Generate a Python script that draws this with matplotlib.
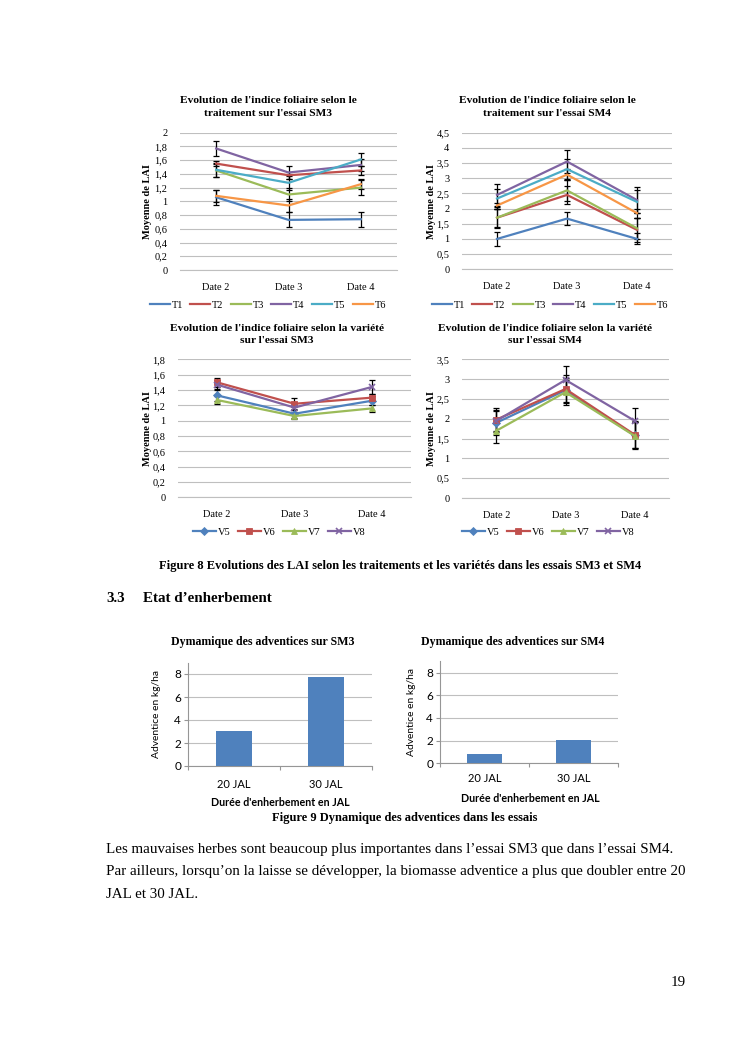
"""Rebuild page 19: LAI line charts (figure 8) and weed bar charts (figure 9)."""

import matplotlib

matplotlib.use("Agg")
import matplotlib.pyplot as plt

W, H = 745, 1053
SERIF = "Liberation Serif"
SANS = "Lato"

DATES = ["Date 2", "Date 3", "Date 4"]
TREATMENTS = ["T1", "T2", "T3", "T4", "T5", "T6"]
VARIETIES = ["V5", "V6", "V7", "V8"]
COLORS = ["#4F81BD", "#C0504D", "#9BBB59", "#8064A2", "#4BACC6", "#F79646"]
VAR_MARKERS = ["D", "s", "^", "x"]

# LAI by treatment, SM3
SM3_TRT = [
    [1.06, 0.73, 0.74],
    [1.55, 1.38, 1.45],
    [1.45, 1.10, 1.20],
    [1.77, 1.42, 1.53],
    [1.46, 1.27, 1.61],
    [1.08, 0.94, 1.25],
]
SM3_TRT_ERR = [
    [0.11, 0.11, 0.11],
    [0.04, 0.05, 0.06],
    [0.09, 0.09, 0.11],
    [0.11, 0.10, 0.09],
    [0.10, 0.10, 0.09],
    [0.09, 0.09, 0.07],
]
# LAI by treatment, SM4
SM4_TRT = [
    [1.00, 1.67, 1.00],
    [1.70, 2.45, 1.30],
    [1.70, 2.60, 1.35],
    [2.45, 3.55, 2.28],
    [2.33, 3.30, 2.22],
    [2.10, 3.12, 1.85],
]
SM4_TRT_ERR = [
    [0.22, 0.22, 0.18],
    [0.30, 0.30, 0.40],
    [0.35, 0.35, 0.35],
    [0.35, 0.38, 0.42],
    [0.33, 0.33, 0.38],
    [0.10, 0.18, 0.15],
]
# LAI by variety
SM3_VAR = [
    [1.33, 1.09, 1.26],
    [1.50, 1.22, 1.30],
    [1.27, 1.06, 1.16],
    [1.47, 1.17, 1.44],
]
SM3_VAR_ERR = [
    [0.07, 0.05, 0.06],
    [0.06, 0.07, 0.05],
    [0.05, 0.04, 0.05],
    [0.06, 0.06, 0.09],
]
SM4_VAR = [
    [1.90, 2.72, 1.58],
    [1.98, 2.75, 1.60],
    [1.70, 2.67, 1.57],
    [1.95, 2.98, 1.95],
]
SM4_VAR_ERR = [
    [0.30, 0.30, 0.33],
    [0.30, 0.35, 0.35],
    [0.32, 0.32, 0.34],
    [0.28, 0.35, 0.33],
]

JAL = ["20 JAL", "30 JAL"]
WEEDS_SM3 = [3.02, 7.71]
WEEDS_SM4 = [0.82, 2.09]


def box(left, top, right, bottom):
    return [left / W, 1 - bottom / H, (right - left) / W, (bottom - top) / H]


def fx(x):
    return x / W


def fy(y):
    return 1 - y / H


def decimal(v, _pos=None):
    return f"{v:g}".replace(".", ",")


def line_chart(fig, rect, title, title_xy, series, errors, names, ylim, step,
               legend_xy, ylabel_x, markers=None):
    ax = fig.add_axes(box(*rect))
    x = range(len(DATES))
    for vals, err in zip(series, errors):
        ax.errorbar(x, vals, yerr=err, fmt="none", ecolor="black", elinewidth=0.9,
                    capsize=2.2, capthick=0.9, zorder=3)
    for i, vals in enumerate(series):
        ax.plot(x, vals, color=COLORS[i], lw=1.6, label=names[i],
                marker=markers[i] if markers else None, ms=4.5 if markers else 0,
                mew=1.2 if markers and markers[i] == "x" else 0.6, zorder=4)
    ax.set_xlim(-0.5, len(DATES) - 0.5)
    ax.set_ylim(*ylim)
    ticks = [round(step * k, 2) for k in range(int(round(ylim[1] / step)) + 1)]
    ax.set_yticks(ticks)
    ax.yaxis.set_major_formatter(matplotlib.ticker.FuncFormatter(decimal))
    ax.set_xticks(list(x), DATES)
    ax.grid(axis="y", color="#BFBFBF", lw=0.8)
    ax.set_axisbelow(True)
    for side in ("top", "right", "left"):
        ax.spines[side].set_visible(False)
    ax.spines["bottom"].set_color("#BFBFBF")
    ax.tick_params(length=0, labelsize=7.5, pad=9)
    for lab in ax.get_xticklabels() + ax.get_yticklabels():
        lab.set_family(SERIF)
    fig.text(fx(title_xy[0]), fy(title_xy[1]), title, ha="center", va="center",
             family=SERIF, weight="bold", fontsize=8.2, linespacing=1.5)
    fig.text(fx(ylabel_x), fy((rect[1] + rect[3]) / 2), "Moyenne de LAI", rotation=90,
             ha="center", va="center", family=SERIF, weight="bold", fontsize=7.5)
    ax.legend(loc="center", bbox_to_anchor=(fx(legend_xy[0]), fy(legend_xy[1])),
              bbox_transform=fig.transFigure, ncol=len(names), frameon=False,
              prop={"family": SERIF, "size": 7.5}, handlelength=2.2 if markers else 1.9,
              columnspacing=0.7, handletextpad=0.2, borderpad=0)
    return ax


def bar_chart(fig, rect, title, title_xy, values, ylabel_x, xtick_y, xlabel_xy):
    ax = fig.add_axes(box(*rect))
    x = range(len(JAL))
    ax.bar(x, values, width=0.4, color="#4F81BD", zorder=3)
    ax.set_xlim(-0.5, len(JAL) - 0.5)
    ax.set_ylim(0, 9)
    ax.set_yticks([0, 2, 4, 6, 8])
    ax.set_xticks([-0.5, 0.5, 1.5])
    ax.set_xticklabels([])
    ax.grid(axis="y", color="#BFBFBF", lw=0.8)
    ax.set_axisbelow(True)
    for side in ("top", "right"):
        ax.spines[side].set_visible(False)
    for side in ("left", "bottom"):
        ax.spines[side].set_color("#969696")
    ax.tick_params(axis="x", length=3, color="#969696")
    ax.tick_params(axis="y", length=3, color="#969696", labelsize=8.5, pad=2)
    for lab in ax.get_yticklabels():
        lab.set_family(SANS)
    # category labels sit between the tick marks
    for i, name in enumerate(JAL):
        fig.text(fx(rect[0] + (rect[2] - rect[0]) * (i + 0.5) / len(JAL)), fy(xtick_y), name,
                 ha="center", va="center", family=SANS, fontsize=8)
    fig.text(fx(title_xy[0]), fy(title_xy[1]), title, ha="center", va="center",
             family=SERIF, weight="bold", fontsize=8.6)
    fig.text(fx(ylabel_x), fy((rect[1] + rect[3]) / 2), "Adventice en kg/ha", rotation=90,
             ha="center", va="center", family=SANS, fontsize=7.4)
    fig.text(fx(xlabel_xy[0]), fy(xlabel_xy[1]), "Durée d'enherbement en JAL",
             ha="center", va="center", family=SANS, weight="bold", fontsize=7.7)
    return ax


def main():
    fig = plt.figure(figsize=(W / 100, H / 100), dpi=100)

    line_chart(fig, (180, 132.7, 397, 270),
               "Evolution de l'indice foliaire selon le\ntraitement sur l'essai SM3", (268, 107),
               SM3_TRT, SM3_TRT_ERR, TREATMENTS, (0, 2), 0.2, (268, 305), 148)
    line_chart(fig, (462, 132.7, 672, 269.3),
               "Evolution de l'indice foliaire selon le\ntraitement sur l'essai SM4", (547, 107),
               SM4_TRT, SM4_TRT_ERR, TREATMENTS, (0, 4.5), 0.5, (550, 305), 432)
    line_chart(fig, (178, 359.3, 411, 497.3),
               "Evolution de l'indice foliaire selon la variété\nsur l'essai SM3", (277, 334.5),
               SM3_VAR, SM3_VAR_ERR, VARIETIES, (0, 1.8), 0.2, (279, 532), 148,
               markers=VAR_MARKERS)
    line_chart(fig, (462, 359.3, 669, 498),
               "Evolution de l'indice foliaire selon la variété\nsur l'essai SM4", (545, 334.5),
               SM4_VAR, SM4_VAR_ERR, VARIETIES, (0, 3.5), 0.5, (548, 532), 432,
               markers=VAR_MARKERS)

    bar_chart(fig, (188, 662.5, 372, 766), "Dymamique des adventices sur SM3", (263, 641.7),
              WEEDS_SM3, 156.7, 785, (280, 803))
    bar_chart(fig, (440, 661.3, 618, 763.3), "Dymamique des adventices sur SM4", (513, 641.7),
              WEEDS_SM4, 411.7, 778, (530, 798))

    fig.text(fx(400), fy(566), "Figure 8 Evolutions des LAI selon les traitements et les variétés "
             "dans les essais SM3 et SM4", ha="center", va="center", family=SERIF,
             weight="bold", fontsize=9)
    fig.text(fx(106), fy(598), "3.3", ha="left", va="center", family=SERIF, weight="bold",
             fontsize=10.8)
    fig.text(fx(143), fy(598), "Etat d\u2019enherbement", ha="left", va="center", family=SERIF,
             weight="bold", fontsize=10.8)
    fig.text(fx(405), fy(818), "Figure 9 Dynamique des adventices dans les essais", ha="center",
             va="center", family=SERIF, weight="bold", fontsize=9)

    body = [
        "Les mauvaises herbes sont beaucoup plus importantes dans l\u2019essai SM3 que dans l\u2019essai SM4.",
        "Par ailleurs, lorsqu\u2019on la laisse se développer, la biomasse adventice a plus que doubler entre 20",
        "JAL et 30 JAL.",
    ]
    for i, line in enumerate(body):
        fig.text(fx(106), fy(850 + 22 * i), line, ha="left", va="center", family=SERIF,
                 fontsize=10.8)
    fig.text(fx(686), fy(982), "19", ha="right", va="center", family=SERIF, fontsize=10.8)

    fig.savefig("out.png", dpi=100)
    plt.close(fig)


if __name__ == "__main__":
    main()
